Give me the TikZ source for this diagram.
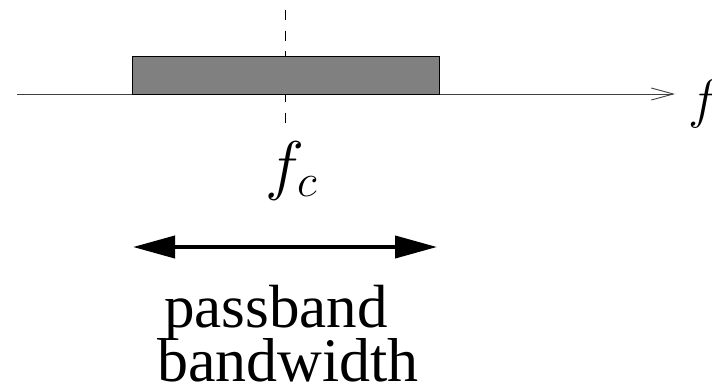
\RequirePackage{fix-cm}
\documentclass[tikz,border=0pt]{standalone}
\usepackage{fontspec}
\setmainfont{Liberation Serif}
\usetikzlibrary{arrows.meta,positioning}

\begin{document}
\begin{tikzpicture}[x=1pt, y=-1pt]
        \useasboundingbox (0,0) rectangle (712,391);
        \tikzset{
            lbl/.style={inner sep=0pt, anchor=base},
        }
        \coordinate (axL) at (17,94);
        \coordinate (axR) at (675,94);
        \coordinate (ctop) at (285.5,10);
        \coordinate (cbot) at (285.5,123);
        \coordinate (bwL) at (133,247);
        \coordinate (bwR) at (437,247);

        \draw[dashed, dash pattern=on 10pt off 10.5pt, line width=1.8pt] (ctop) -- (cbot);
        \draw[line width=0.9pt, black!75, -{Straight Barb[length=22pt, width=12pt, line width=0.9pt]}] (axL) -- (axR);
        \node (band) [draw, fill=black!50, line width=0.9pt, minimum width=307pt, minimum height=38pt, inner sep=0pt] at (285.5,75) {};

        \node (f) [lbl, anchor=base west] at (688,117) {\fontsize{54}{54}\selectfont$f$};
        \node (fc) [lbl, anchor=base west] at (265,187) {\fontsize{66}{66}\selectfont$f_c$};

        \draw[line width=4pt, {Triangle[length=42pt, width=22pt]}-{Triangle[length=42pt, width=22pt]}] (bwL) -- (bwR);

        \node (pb) [lbl, anchor=base west] at (164,327) {\fontsize{61}{61}\selectfont passband};
        \node (bw) [lbl, anchor=base west] at (157,381) {\fontsize{62}{62}\selectfont bandwidth};
    \end{tikzpicture}
\end{document}
